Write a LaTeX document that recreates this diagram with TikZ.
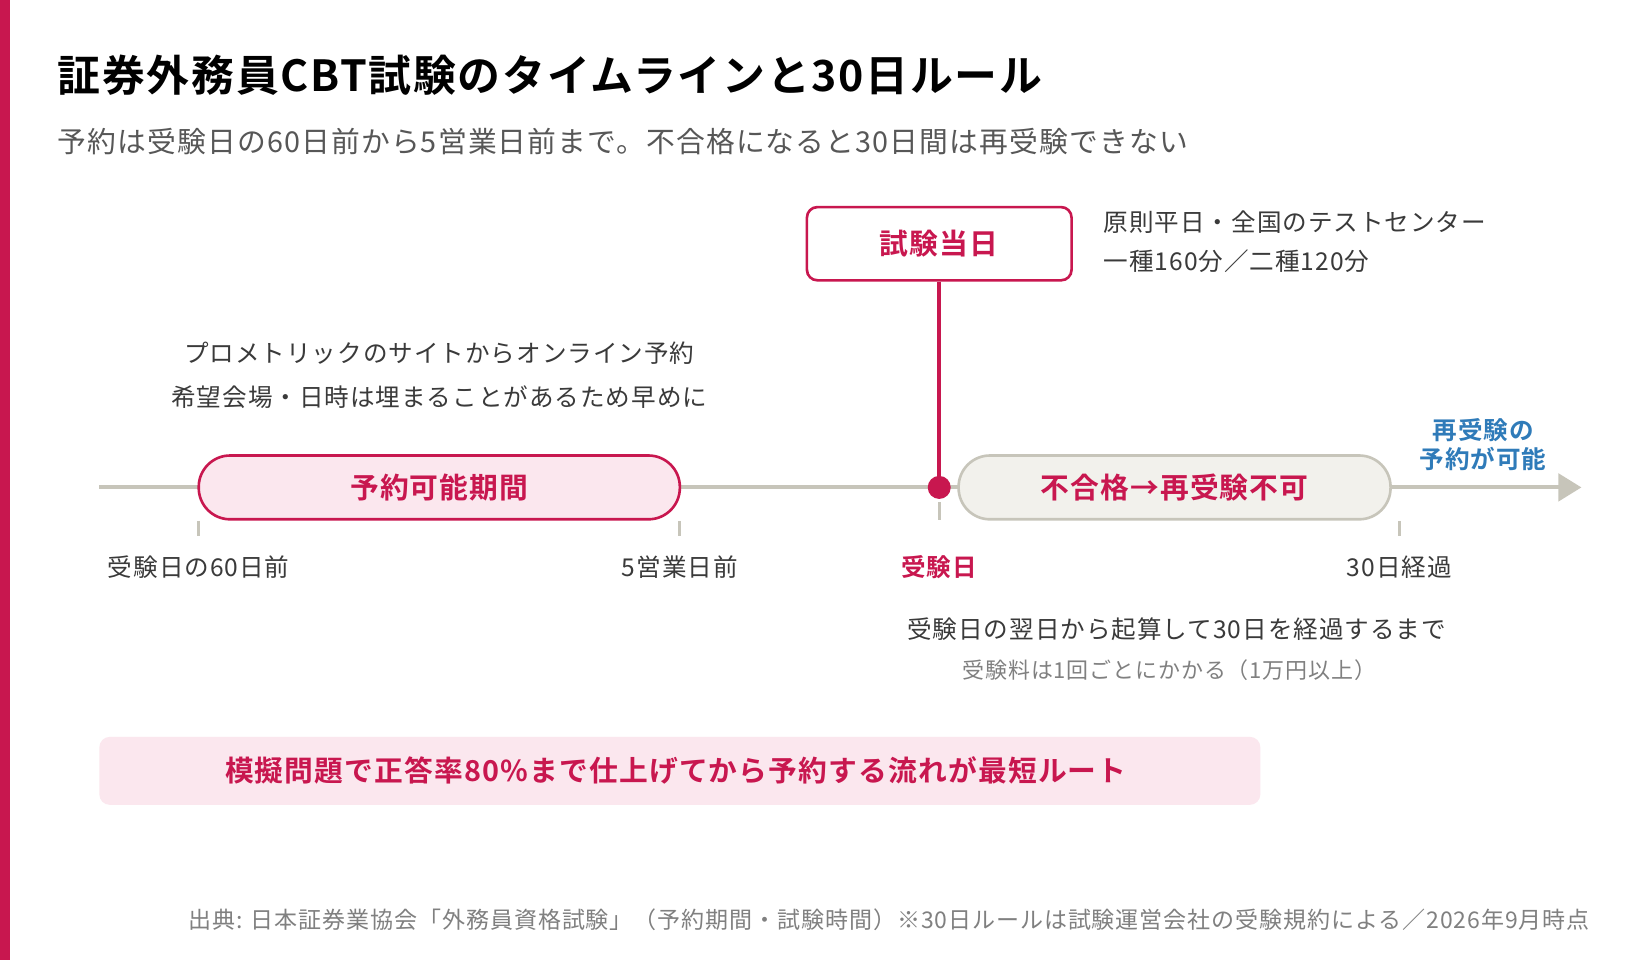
\documentclass[tikz,border=0pt]{standalone}
\usepackage{fontspec}
\setmainfont{Noto Sans CJK JP}[BoldFont={Noto Sans CJK JP Bold},LetterSpace=4]
\usetikzlibrary{arrows.meta}
\definecolor{crim}{HTML}{C8174F}
\definecolor{pinkf}{HTML}{FBE7EE}
\definecolor{grl}{HTML}{C7C5BA}
\definecolor{grf}{HTML}{F2F1EC}
\definecolor{blu}{HTML}{2F7BB9}
\definecolor{txt}{HTML}{3A3A3A}
\definecolor{gtx}{HTML}{808080}
\begin{document}
\begin{tikzpicture}[x=1pt,y=-1pt,
  lab/.style={font=\fontsize{23.5}{26}\selectfont,text=txt},
  boxt/.style={font=\fontsize{27.5}{30}\selectfont\bfseries,text=crim},
  tick/.style={draw=grl,line width=3pt}]
\useasboundingbox (0,0) rectangle (1568,918);
\fill[white] (0,0) rectangle (1568,918);
\fill[crim] (0,0) rectangle (10,918);
\node[anchor=west,font=\fontsize{41}{44}\selectfont\bfseries,text=black,inner sep=0pt] (title) at (55,72) {証券外務員CBT試験のタイムラインと30日ルール};
\node[anchor=west,font=\fontsize{27.5}{30}\selectfont,text=txt!85,inner sep=0pt] (sub) at (55,135) {予約は受験日の60日前から5営業日前まで。不合格になると30日間は再受験できない};
% timeline
\coordinate (ls) at (95,466);
\coordinate (le) at (1512,466);
\draw[grl,line width=4pt,-{Triangle[length=22pt,width=26pt]}] (ls) -- (le);
% reservation period
\node[draw=crim,fill=pinkf,line width=2.5pt,rounded corners=30pt,minimum width=460pt,minimum height=61pt,boxt] (res) at (420,466) {予約可能期間};
\node[draw=grl,fill=grf,line width=2.5pt,rounded corners=30pt,minimum width=413pt,minimum height=61pt,boxt] (fail) at (1123,466) {不合格→再受験不可};
\draw[tick] (190,498) -- (190,512);
\draw[tick] (650,498) -- (650,512);
\draw[tick] (1338,498) -- (1338,512);
\draw[tick] (898,480) -- (898,497);
\node[lab] (l1) at (190,542) {受験日の60日前};
\node[lab] (l2) at (650,542) {5営業日前};
\node[font=\fontsize{23.5}{26}\selectfont\bfseries,text=crim] (l3) at (898,542) {受験日};
\node[lab] (l4) at (1338,542) {30日経過};
% exam day
\node[draw=crim,fill=white,line width=2.5pt,rounded corners=10pt,minimum width=253pt,minimum height=70pt,boxt] (exam) at (898,233) {試験当日};
\coordinate (dot) at (898,466);
\draw[crim,line width=4pt] (exam.south) -- (dot);
\fill[crim] (dot) circle (11pt);
% notes
\node[lab] (n1) at (420,338) {プロメトリックのサイトからオンライン予約};
\node[lab] (n2) at (420,380) {希望会場・日時は埋まることがあるため早めに};
\node[lab,anchor=west,inner sep=0pt] (n3) at (1055,212) {原則平日・全国のテストセンター};
\node[lab,anchor=west,inner sep=0pt] (n4) at (1055,250) {一種160分／二種120分};
\node[lab] (n5) at (1125,602) {受験日の翌日から起算して30日を経過するまで};
\node[font=\fontsize{21}{24}\selectfont,text=gtx] (n6) at (1118,641) {受験料は1回ごとにかかる（1万円以上）};
\node[font=\fontsize{23.5}{26}\selectfont\bfseries,text=blu,align=center] (n7) at (1418,425) {再受験の\\[2pt]予約が可能};
% bottom
\node[fill=pinkf,rounded corners=10pt,minimum width=1110pt,minimum height=65pt] (bot) at (650,737) {};
\node[anchor=west,boxt,inner sep=0pt] (bott) at (215,737) {模擬問題で正答率80\%まで仕上げてから予約する流れが最短ルート};
\node[anchor=east,font=\fontsize{22}{24}\selectfont,text=gtx,inner sep=0pt] (foot) at (1520,879) {出典: 日本証券業協会「外務員資格試験」（予約期間・試験時間）※30日ルールは試験運営会社の受験規約による／2026年9月時点};
\end{tikzpicture}
\end{document}
